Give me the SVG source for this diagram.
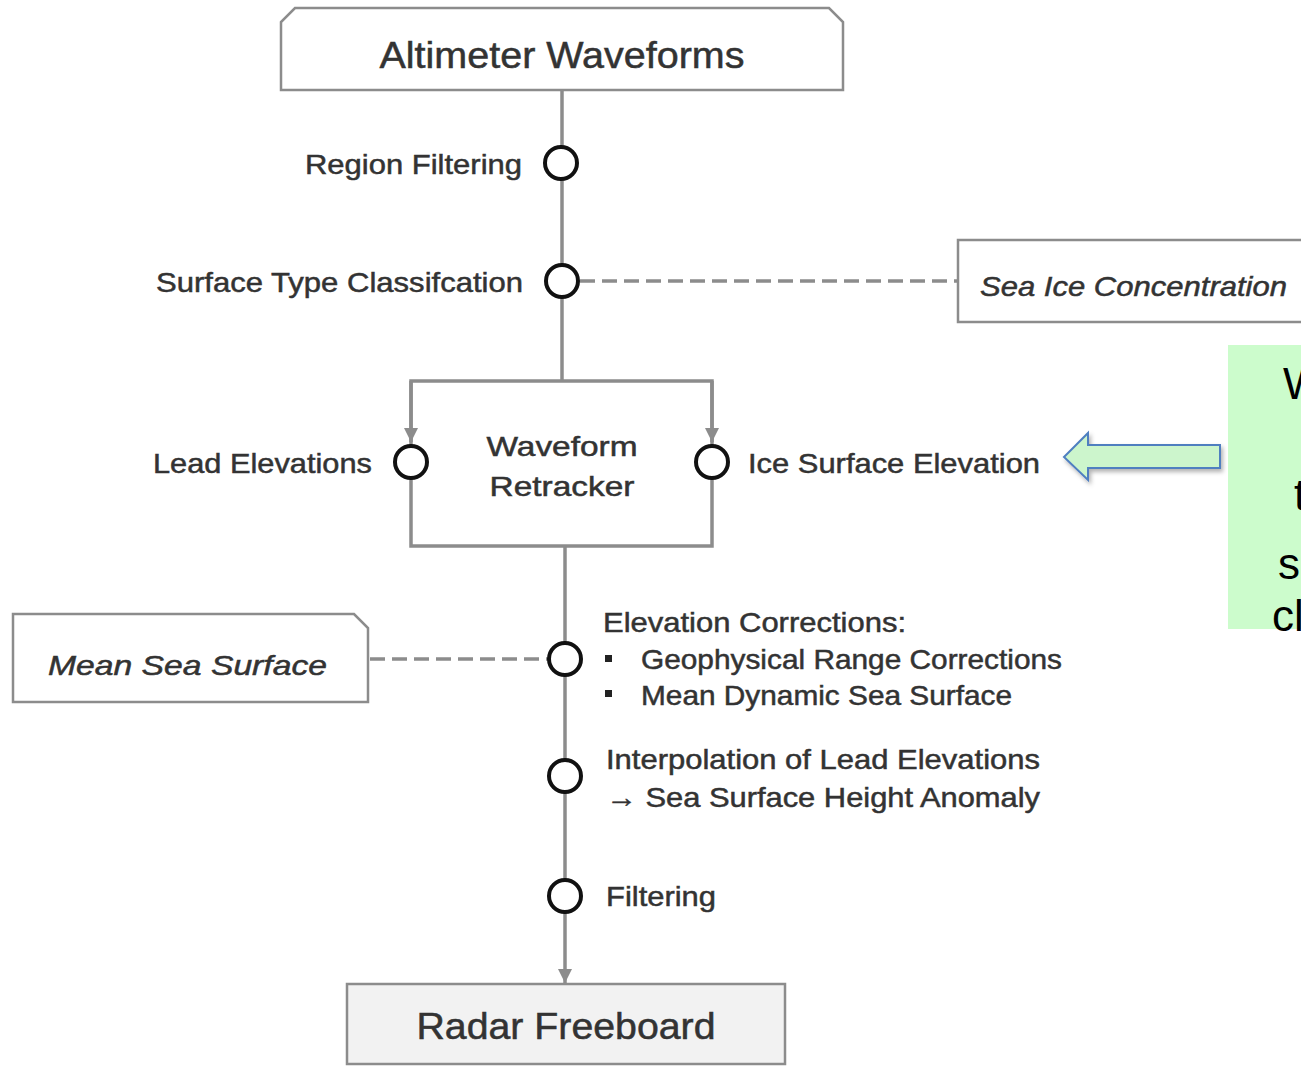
<svg xmlns="http://www.w3.org/2000/svg" width="1301" height="1066" viewBox="0 0 1301 1066">
<style>
.box{fill:#fff;stroke:#8c8c8c;stroke-width:2.5}
.line{stroke:#8c8c8c;stroke-width:3.5;fill:none}
.dash{stroke:#8c8c8c;stroke-width:3.5;fill:none;stroke-dasharray:15,7}
.node{fill:#fff;stroke:#111;stroke-width:4}
.t{font-family:"Liberation Sans",Arial,sans-serif;fill:#333;stroke:#333;stroke-width:0.5;font-size:28px}
.big{font-size:36px}
.it{font-style:italic}
.g{font-family:"Liberation Sans",Arial,sans-serif;fill:#000;font-size:44px}
</style>
<defs>
<marker id="ah" viewBox="0 0 10 10" refX="10" refY="5" markerWidth="14" markerHeight="14" markerUnits="userSpaceOnUse" orient="auto">
<path d="M0,0 L10,5 L0,10 Z" fill="#8c8c8c"/>
</marker>
<filter id="sh" x="-10%" y="-30%" width="130%" height="180%">
<feDropShadow dx="2" dy="3" stdDeviation="2" flood-color="#000" flood-opacity="0.3"/>
</filter>
</defs>

<g id="connectors">
<line class="line" x1="562" y1="90" x2="562" y2="381"/>
<line class="dash" x1="580" y1="281" x2="958" y2="281"/>
<path class="line" d="M411,381 L411,442" marker-end="url(#ah)"/>
<path class="line" d="M712,381 L712,442" marker-end="url(#ah)"/>
<line class="line" x1="565" y1="546" x2="565" y2="642"/>
<line class="line" x1="565" y1="676" x2="565" y2="759"/>
<line class="line" x1="565" y1="793" x2="565" y2="879"/>
<path class="line" d="M565,913 L565,983" marker-end="url(#ah)"/>
<line class="dash" x1="370" y1="659" x2="548" y2="659"/>
</g>

<g id="altimeter-waveforms">
<path class="box" d="M295,8 L829,8 L843,22 L843,90 L281,90 L281,22 Z"/>
<text class="t big" x="562" y="68" text-anchor="middle" textLength="365" lengthAdjust="spacingAndGlyphs">Altimeter Waveforms</text>
</g>

<g id="region-filtering">
<circle class="node" cx="561" cy="163" r="16"/>
<text class="t" x="522" y="174" text-anchor="end" textLength="217" lengthAdjust="spacingAndGlyphs">Region Filtering</text>
</g>

<g id="surface-type">
<circle class="node" cx="562" cy="281" r="16"/>
<text class="t" x="523" y="292" text-anchor="end" textLength="367" lengthAdjust="spacingAndGlyphs">Surface Type Classifcation</text>
</g>

<g id="sea-ice-concentration">
<path class="box" d="M1305,240 L958,240 L958,322 L1305,322"/>
<text class="t it" x="980" y="296" textLength="307" lengthAdjust="spacingAndGlyphs">Sea Ice Concentration</text>
</g>

<g id="waveform-retracker">
<rect class="line" x="411" y="381" width="301" height="165"/>
<text class="t" x="562" y="456" text-anchor="middle" textLength="151" lengthAdjust="spacingAndGlyphs">Waveform</text>
<text class="t" x="562" y="496" text-anchor="middle" textLength="145" lengthAdjust="spacingAndGlyphs">Retracker</text>
</g>

<g id="lead-elevations">
<circle class="node" cx="411" cy="462" r="16"/>
<text class="t" x="372" y="473" text-anchor="end" textLength="219" lengthAdjust="spacingAndGlyphs">Lead Elevations</text>
</g>

<g id="ice-surface-elevation">
<circle class="node" cx="712" cy="462" r="16"/>
<text class="t" x="748" y="473" textLength="292" lengthAdjust="spacingAndGlyphs">Ice Surface Elevation</text>
</g>

<g id="callout-arrow">
<path d="M1220,445 L1088,445 L1088,433 L1064,457 L1088,480 L1088,468 L1220,468 Z" fill="#ccf5cc" stroke="#4f7fc0" stroke-width="2" filter="url(#sh)"/>
</g>

<g id="callout-note">
<rect x="1228" y="345" width="80" height="284" fill="#ccfccc"/>
<text class="g" x="1283" y="399">W</text>
<text class="g" x="1294" y="510">t</text>
<text class="g" x="1278" y="579">s</text>
<text class="g" x="1272" y="631">cl</text>
</g>

<g id="mean-sea-surface">
<path class="box" d="M13,614 L354,614 L368,628 L368,702 L13,702 Z"/>
<text class="t it" x="48" y="675" textLength="279" lengthAdjust="spacingAndGlyphs">Mean Sea Surface</text>
</g>

<g id="elevation-corrections">
<circle class="node" cx="565" cy="659" r="16"/>
<text class="t" x="603" y="632" textLength="303" lengthAdjust="spacingAndGlyphs">Elevation Corrections:</text>
<rect x="605" y="655" width="7" height="7" fill="#222"/>
<text class="t" x="641" y="669" textLength="421" lengthAdjust="spacingAndGlyphs">Geophysical Range Corrections</text>
<rect x="605" y="690" width="7" height="7" fill="#222"/>
<text class="t" x="641" y="705" textLength="371" lengthAdjust="spacingAndGlyphs">Mean Dynamic Sea Surface</text>
</g>

<g id="interpolation">
<circle class="node" cx="565" cy="776" r="16"/>
<text class="t" x="606" y="769" textLength="434" lengthAdjust="spacingAndGlyphs">Interpolation of Lead Elevations</text>
<text class="t" x="606" y="807" textLength="434" lengthAdjust="spacingAndGlyphs">→ Sea Surface Height Anomaly</text>
</g>

<g id="filtering">
<circle class="node" cx="565" cy="896" r="16"/>
<text class="t" x="606" y="906" textLength="110" lengthAdjust="spacingAndGlyphs">Filtering</text>
</g>

<g id="radar-freeboard">
<rect x="347" y="984" width="438" height="80" fill="#f2f2f2" stroke="#8c8c8c" stroke-width="2.5"/>
<text class="t big" x="566" y="1039" text-anchor="middle" textLength="299" lengthAdjust="spacingAndGlyphs">Radar Freeboard</text>
</g>
</svg>
